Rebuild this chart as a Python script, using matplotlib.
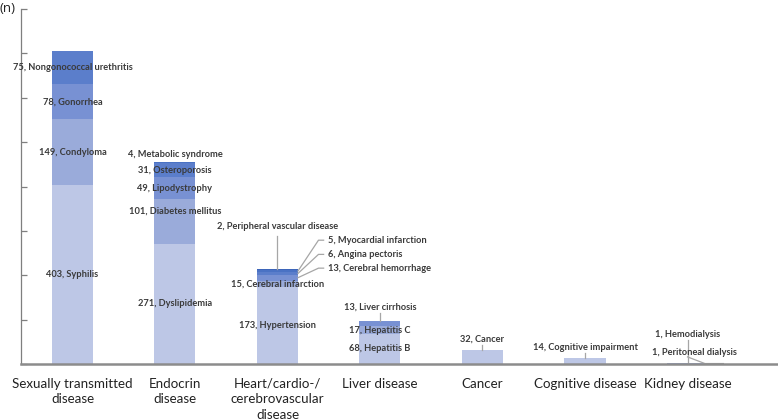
import matplotlib
matplotlib.use('Agg')
import matplotlib.pyplot as plt
import numpy as np

categories = ['Sexually transmitted\ndisease', 'Endocrin\ndisease',
              'Heart/cardio-/\ncerebrovascular\ndisease', 'Liver disease',
              'Cancer', 'Cognitive disease', 'Kidney disease']

# stacked segments per category, bottom to top
seg_values = [
    [403, 149, 78, 75],
    [271, 101, 49, 31, 4],
    [173, 15, 13, 6, 5, 2],
    [68, 17, 13],
    [32],
    [14],
    [1, 1],
]
seg_names = [
    ['Syphilis', 'Condyloma', 'Gonorrhea', 'Nongonococcal urethritis'],
    ['Dyslipidemia', 'Diabetes mellitus', 'Lipodystrophy', 'Osteroporosis', 'Metabolic syndrome'],
    ['Hypertension', 'Cerebral infarction', 'Cerebral hemorrhage', 'Angina pectoris',
     'Myocardial infarction', 'Peripheral vascular disease'],
    ['Hepatitis B', 'Hepatitis C', 'Liver cirrhosis'],
    ['Cancer'],
    ['Cognitive impairment'],
    ['Peritoneal dialysis', 'Hemodialysis'],
]

colors = ['#bdc7e6', '#9aabda', '#7891d3', '#5b7ecb', '#4a72c4', '#3d65b9']
txt_color = '#3a3a3a'
lab_font = dict(family=['Lato', 'DejaVu Sans'], fontsize=6.7, fontweight='bold', color=txt_color)

fig = plt.figure(figsize=(7.78, 4.2), dpi=100)
ax = fig.add_axes([21/778, 56/420, 756/778, 355/420])

x = np.arange(len(categories))
w = 0.4
for i, vals in enumerate(seg_values):
    bottom = 0
    for j, v in enumerate(vals):
        ax.bar(x[i], v, w, bottom=bottom, color=colors[j], linewidth=0)
        bottom += v

def seg_mid(i, j):
    return sum(seg_values[i][:j]) + seg_values[i][j] / 2

def lab(i, j):
    return '%d, %s' % (seg_values[i][j], seg_names[i][j])

# labels inside bars
inside = {(0, 0): 0, (0, 1): 0, (0, 2): 0, (0, 3): 0,
          (1, 0): 0, (1, 1): 22, (1, 2): 0, (1, 3): 0,
          (2, 0): 0, (2, 1): 0,
          (3, 0): 0, (3, 1): 0}
for (i, j), dy in inside.items():
    ax.text(x[i], seg_mid(i, j) + dy, lab(i, j), ha='center', va='center', **lab_font)

line_kw = dict(color='#a6a6a6', lw=0.9)

# metabolic syndrome above endocrin bar
ax.text(x[1], 472, lab(1, 4), ha='center', va='center', **lab_font)

# heart: peripheral vascular disease on top
top2 = sum(seg_values[2])
ax.plot([x[2], x[2]], [top2, 288], **line_kw)
ax.text(x[2], 310, lab(2, 5), ha='center', va='center', **lab_font)
# heart: side labels with leader lines
for j, ty in [(4, 279), (3, 247), (2, 216)]:
    y0 = seg_mid(2, j)
    ax.plot([x[2] + w / 2, x[2] + 0.4, x[2] + 0.45], [y0, ty, ty], **line_kw)
    ax.text(x[2] + 0.49, ty, lab(2, j), ha='left', va='center', **lab_font)

# single labels above small bars
for i, j, ty in [(3, 2, 128), (4, 0, 56), (5, 0, 38)]:
    top = sum(seg_values[i])
    ax.plot([x[i], x[i]], [top, ty - 14], **line_kw)
    ax.text(x[i], ty, lab(i, j), ha='center', va='center', **lab_font)

# kidney
ax.plot([x[6], x[6]], [0, 54], **line_kw)
ax.text(x[6], 67, lab(6, 1), ha='center', va='center', **lab_font)
ax.plot([x[6], x[6] + 0.17, x[6] + 0.35], [16, 1, 1], **line_kw)
ax.text(x[6] + 0.07, 25, lab(6, 0), ha='center', va='center', **lab_font)

ax.set_xlim(-0.502, 6.873)
ax.set_ylim(0, 800)
ax.set_yticks(np.arange(0, 801, 100))
ax.set_yticklabels([])
ax.tick_params(axis='y', direction='in', length=4.5, color='#7f7f7f', width=0.9)
ax.set_xticks(x)
ax.set_xticklabels(categories, family=['Lato', 'DejaVu Sans'],
                   fontsize=9.6, color='#222222', linespacing=1.35)
ax.tick_params(axis='x', length=0, pad=10)
for s in ['top', 'right']:
    ax.spines[s].set_visible(False)
ax.spines['left'].set_color('#7f7f7f')
ax.spines['left'].set_linewidth(0.9)
ax.spines['bottom'].set_color('#8c8c8c')
ax.spines['bottom'].set_linewidth(1.8)

fig.text(0.0, 1 - 9/420, '(n)', ha='left', va='center', fontsize=9.5,
         family=['Open Sans', 'DejaVu Sans'], color='#222222')

plt.savefig('out.png', dpi=100)
